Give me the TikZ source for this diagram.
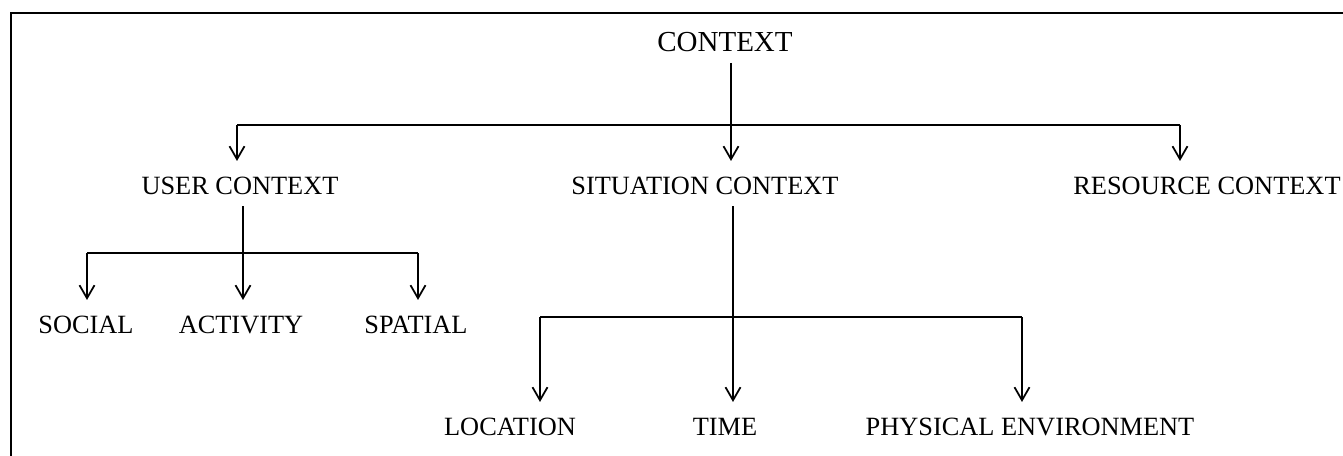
\documentclass[tikz,border=0pt]{standalone}
\usepackage{fontspec}
\setmainfont{Liberation Serif}
\usetikzlibrary{arrows.meta}

\tikzset{
  lbl/.style={font=\fontsize{15}{18}\selectfont, inner sep=0pt,
              text height=9.9pt, text depth=0pt},
  title/.style={font=\fontsize{16.5}{20}\selectfont, text height=10.9pt},
  link/.style={line width=1pt},
  arr/.style={link, -{Straight Barb[length=2.6mm, width=3mm, line width=1pt]},
              shorten >=3.2mm},
  gapstart/.style={shorten <=2.2mm},
  frame/.style={line width=1.2pt}
}

\begin{document}
\begin{tikzpicture}[x=0.02cm, y=-0.02cm]
  \useasboundingbox (0,0) rectangle (1343,456);
  % frame
  \draw[frame] (11,456) -- (11,13) -- (1343,13);

  % labels
  \node[lbl, title] (ctx) at (725,42) {CONTEXT};
  \node[lbl] (user) at (240,186) {USER CONTEXT};
  \node[lbl] (situ) at (705,186) {SITUATION CONTEXT};
  \node[lbl] (res) at (1207,186) {RESOURCE CONTEXT};
  \node[lbl] (social) at (86,325) {SOCIAL};
  \node[lbl] (activity) at (241,325) {ACTIVITY};
  \node[lbl] (spatial) at (416,325) {SPATIAL};
  \node[lbl] (loc) at (510,427) {LOCATION};
  \node[lbl] (time) at (725,427) {TIME};
  \node[lbl] (phys) at (1030,427) {PHYSICAL ENVIRONMENT};

  % junctions
  \coordinate (top) at (731,125);
  \coordinate (topL) at (237,125);
  \coordinate (topR) at (1180,125);
  \coordinate (userJ) at (243,253);
  \coordinate (userL) at (87,253);
  \coordinate (userR) at (418,253);
  \coordinate (situJ) at (733,317);
  \coordinate (situL) at (540,317);
  \coordinate (situR) at (1022,317);

  % first level
  \draw[link] (topL) -- (topR);
  \draw[arr, gapstart] (ctx.south -| top) -- (situ.north -| top);
  \draw[arr] (topL) -- (user.north -| topL);
  \draw[arr] (topR) -- (res.north -| topR);

  % user context
  \draw[link] (userL) -- (userR);
  \draw[arr, gapstart] (user.south -| userJ) -- (activity.north -| userJ);
  \draw[arr] (userL) -- (social.north -| userL);
  \draw[arr] (userR) -- (spatial.north -| userR);

  % situation context
  \draw[link] (situL) -- (situR);
  \draw[arr, gapstart] (situ.south -| situJ) -- (time.north -| situJ);
  \draw[arr] (situL) -- (loc.north -| situL);
  \draw[arr] (situR) -- (phys.north -| situR);
\end{tikzpicture}
\end{document}
